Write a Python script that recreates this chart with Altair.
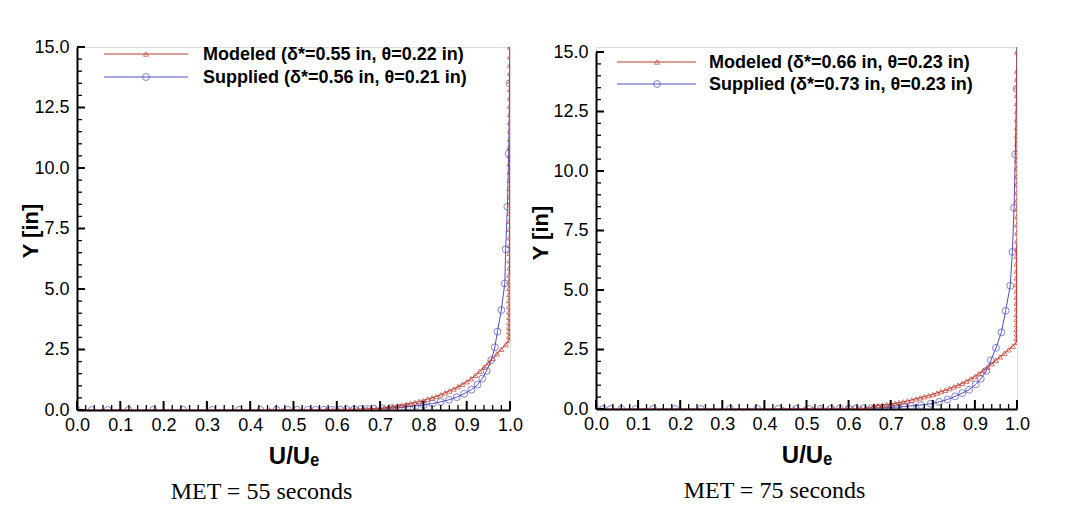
import altair as alt
import pandas as pd

# ---------------- MET = 55 s ----------------
mod55_u = [0.0, 0.445, 0.475, 0.50, 0.52, 0.54, 0.56, 0.575, 0.59, 0.605, 0.62, 0.63,
           0.64, 0.65, 0.66, 0.67, 0.68, 0.69,
           0.70, 0.71, 0.72, 0.73, 0.74, 0.75, 0.76, 0.77, 0.78, 0.79, 0.80, 0.81, 0.82,
           0.83, 0.84, 0.85, 0.86, 0.87, 0.88, 0.89, 0.90, 0.91, 0.92, 0.93, 0.94, 0.95,
           0.96, 0.97, 0.98, 0.99, 0.998,
           0.998, 0.998, 0.998, 0.998, 0.998, 0.998, 0.998, 0.998, 0.998, 0.998, 0.998,
           0.998, 0.999, 0.999, 0.999, 0.999, 0.999, 0.999, 0.999, 0.999, 0.999, 0.999,
           0.999, 0.999, 0.999, 0.999, 0.999, 0.999, 1.0, 1.0, 1.0, 1.0, 1.0, 1.0, 1.0,
           1.0, 1.0, 1.0, 1.0, 1.0]
mod55_y = [0.0, 0.0005, 0.0008, 0.0012, 0.0017, 0.0024, 0.0033, 0.0045, 0.006, 0.008,
           0.011, 0.014, 0.018, 0.023, 0.029, 0.036, 0.045, 0.055,
           0.07, 0.09, 0.115, 0.14, 0.17, 0.20, 0.235, 0.27, 0.31, 0.35, 0.40, 0.45, 0.50,
           0.56, 0.63, 0.71, 0.79, 0.87, 0.96, 1.06, 1.17, 1.29, 1.43, 1.60, 1.77, 1.95,
           2.13, 2.32, 2.51, 2.70, 2.87,
           3.05, 3.23, 3.42, 3.62, 3.83, 4.05, 4.28, 4.52, 4.77, 5.03, 5.30, 5.58, 5.87,
           6.17, 6.48, 6.80, 7.12, 7.46, 7.80, 8.14, 8.48, 8.82, 9.16, 9.50, 9.84, 10.18,
           10.52, 10.86, 11.20, 11.54, 11.88, 12.22, 12.56, 12.90, 13.24, 13.58, 13.92,
           14.26, 14.60, 15.0]

sup55_u = [0.0, 0.034, 0.071, 0.119, 0.176, 0.245, 0.312, 0.374, 0.424, 0.461, 0.487,
           0.508, 0.533, 0.551, 0.570, 0.589, 0.607, 0.623, 0.640, 0.655, 0.670, 0.686,
           0.705, 0.724, 0.743, 0.763, 0.782, 0.801,
           0.821, 0.840, 0.859, 0.877, 0.894, 0.911, 0.925, 0.936, 0.946, 0.957, 0.965,
           0.971, 0.980, 0.988, 0.990, 0.994, 0.997, 0.999, 1.0]
sup55_y = [0.0, 0.0004, 0.0006, 0.0008, 0.001, 0.0013, 0.0016, 0.002, 0.0025, 0.0032,
           0.004, 0.005, 0.0065, 0.008, 0.010, 0.013, 0.016, 0.021, 0.026, 0.033, 0.042,
           0.052, 0.066, 0.083, 0.105, 0.132, 0.167, 0.21,
           0.265, 0.335, 0.42, 0.53, 0.67, 0.84, 1.05, 1.30, 1.62, 2.07, 2.59, 3.24, 4.13,
           5.23, 6.64, 8.40, 10.60, 13.50, 17.10]

# ---------------- MET = 75 s ----------------
mod75_u = [0.0, 0.445, 0.47, 0.495, 0.515, 0.535, 0.55, 0.565, 0.58, 0.595, 0.61, 0.62,
           0.63, 0.64, 0.65,
           0.66, 0.67, 0.68, 0.69, 0.70, 0.71, 0.72, 0.73, 0.74, 0.75, 0.76, 0.77, 0.78,
           0.79, 0.80, 0.81, 0.82, 0.83, 0.84, 0.85, 0.86, 0.87, 0.88, 0.89, 0.90, 0.91,
           0.92, 0.93, 0.94, 0.95, 0.96, 0.97, 0.98, 0.99, 0.999,
           0.999, 0.999, 0.999, 0.999, 0.999, 0.999, 0.999, 0.999, 0.999, 0.999, 0.999,
           0.999, 0.999, 0.999, 0.999, 0.999, 1.0, 1.0, 1.0, 1.0, 1.0, 1.0, 1.0, 1.0, 1.0,
           1.0, 1.0, 1.0, 1.0, 1.0, 1.0, 1.0, 1.0, 1.0, 1.0, 1.0, 1.0, 1.0, 1.0]
mod75_y = [0.0, 0.0005, 0.0008, 0.0012, 0.0017, 0.0024, 0.0033, 0.0045, 0.006, 0.008,
           0.011, 0.014, 0.018, 0.023, 0.03,
           0.13, 0.145, 0.165, 0.185, 0.21, 0.235, 0.27, 0.30, 0.34, 0.38, 0.425, 0.47,
           0.52, 0.565, 0.61, 0.67, 0.73, 0.79, 0.86, 0.93, 1.00, 1.08, 1.17, 1.27, 1.37,
           1.49, 1.62, 1.76, 1.90, 2.05, 2.19, 2.34, 2.49, 2.64, 2.80,
           2.98, 3.16, 3.35, 3.55, 3.76, 3.98, 4.21, 4.45, 4.70, 4.96, 5.23, 5.51, 5.80,
           6.10, 6.41, 6.73, 7.06, 7.40, 7.74, 8.08, 8.42, 8.76, 9.10, 9.44, 9.78, 10.12,
           10.46, 10.80, 11.14, 11.48, 11.82, 12.16, 12.50, 12.84, 13.18, 13.52, 13.86,
           14.20, 15.0]

sup75_u = [0.0, 0.017, 0.035, 0.060, 0.094, 0.136, 0.188, 0.249, 0.318, 0.383, 0.433,
           0.475, 0.506, 0.534, 0.558, 0.579, 0.600, 0.617, 0.635, 0.653, 0.669, 0.684,
           0.700, 0.716, 0.732, 0.748,
           0.772, 0.795, 0.815, 0.835, 0.853, 0.870, 0.886, 0.902, 0.914, 0.927, 0.938,
           0.950, 0.963, 0.973, 0.984, 0.989, 0.993, 0.996, 0.999, 1.0]
sup75_y = [0.0, 0.0004, 0.0006, 0.0008, 0.001, 0.0013, 0.0016, 0.002, 0.0025, 0.0032,
           0.004, 0.005, 0.0063, 0.008, 0.010, 0.0125, 0.016, 0.020, 0.025, 0.032, 0.040,
           0.050, 0.063, 0.080, 0.100, 0.127,
           0.165, 0.22, 0.30, 0.40, 0.53, 0.67, 0.81, 1.03, 1.27, 1.60, 2.05, 2.57, 3.22,
           4.13, 5.18, 6.60, 8.45, 10.70, 13.45, 17.10]

legend55 = ["Modeled (δ*=0.55 in, θ=0.22 in)", "Supplied (δ*=0.56 in, θ=0.21 in)"]
legend75 = ["Modeled (δ*=0.66 in, θ=0.23 in)", "Supplied (δ*=0.73 in, θ=0.23 in)"]
captions = ["MET = 55 seconds", "MET = 75 seconds"]

x_major = [0.0, 0.1, 0.2, 0.3, 0.4, 0.5, 0.6, 0.7, 0.8, 0.9, 1.0]
x_minor = [0.02, 0.04, 0.06, 0.08, 0.12, 0.14, 0.16, 0.18, 0.22, 0.24, 0.26, 0.28,
           0.32, 0.34, 0.36, 0.38, 0.42, 0.44, 0.46, 0.48, 0.52, 0.54, 0.56, 0.58,
           0.62, 0.64, 0.66, 0.68, 0.72, 0.74, 0.76, 0.78, 0.82, 0.84, 0.86, 0.88,
           0.92, 0.94, 0.96, 0.98]
y_major = [0.0, 2.5, 5.0, 7.5, 10.0, 12.5, 15.0]
y_minor = [0.5, 1.0, 1.5, 2.0, 3.0, 3.5, 4.0, 4.5, 5.5, 6.0, 6.5, 7.0, 8.0, 8.5, 9.0,
           9.5, 10.5, 11.0, 11.5, 12.0, 13.0, 13.5, 14.0, 14.5]

RED = "#c0392b"
BLUE = "#4f4fc4"
SANS = "Liberation Sans"
XTITLE = "U/Uₑ"
YTITLE = "Y [in]"


def panel(mu, my, su, sy, labels, caption, w, h, leg, title_x, y_top):
    mod = pd.DataFrame({"u": mu, "y": my, "i": list(range(len(mu)))})
    sup = pd.DataFrame({"u": su, "y": sy, "i": list(range(len(su)))})
    xs = alt.Scale(domain=[0, 1], nice=False, zero=False)
    # y axis runs from the bottom of the view up to y_top pixels below its top edge
    ys = alt.Scale(domain=[0, 15], nice=False, zero=False, range=[h, y_top])

    xaxis = alt.Axis(values=x_major, format=".1f", ticks=False, grid=False,
                     domainColor="black", domainWidth=2, labelFont=SANS,
                     labelFontSize=18, labelColor="black", labelPadding=6,
                     labelOverlap=False, labelFlush=False,
                     titleFont=SANS, titleFontSize=24, titleFontWeight="bold",
                     titleColor="black", titlePadding=10)
    yaxis = alt.Axis(values=y_major, format=".1f", ticks=False, grid=False,
                     domainColor="black", domainWidth=2, labelFont=SANS,
                     labelFontSize=18, labelColor="black", labelPadding=8,
                     labelOverlap=False, labelFlush=False,
                     titleFont=SANS, titleFontSize=22, titleFontWeight="bold",
                     titleColor="black", titleX=title_x, titleY=(h + y_top) / 2 + 2,
                     titleAngle=270, titleAlign="center", titleBaseline="middle")

    def xenc(field):
        return alt.X(field, scale=xs, axis=xaxis, title=XTITLE)

    def yenc(field):
        return alt.Y(field, scale=ys, axis=yaxis, title=YTITLE)

    sup_line = alt.Chart(sup).mark_line(color=BLUE, strokeWidth=1, clip=True).encode(
        x=xenc("u:Q"), y=yenc("y:Q"), order="i:Q")
    sup_pts = alt.Chart(sup).mark_point(shape="circle", filled=False, size=48,
                                        strokeWidth=1, color=BLUE, clip=True).encode(
        x=xenc("u:Q"), y=yenc("y:Q"))
    mod_line = alt.Chart(mod).mark_line(color=RED, strokeWidth=1, clip=True).encode(
        x=xenc("u:Q"), y=yenc("y:Q"), order="i:Q")
    mod_pts = alt.Chart(mod).mark_point(shape="triangle-up", filled=False, size=26,
                                        strokeWidth=1, color=RED, clip=True).encode(
        x=xenc("u:Q"), y=yenc("y:Q"))

    # inward-pointing axis ticks
    xmaj = alt.Chart(pd.DataFrame({"v": x_major})).mark_rule(
        color="black", strokeWidth=2).encode(
        x=xenc("v:Q"), y=alt.value(h), y2=alt.value(h - 9))
    xmin = alt.Chart(pd.DataFrame({"v": x_minor})).mark_rule(
        color="black", strokeWidth=1.3).encode(
        x=xenc("v:Q"), y=alt.value(h), y2=alt.value(h - 5))
    ymaj = alt.Chart(pd.DataFrame({"v": y_major})).mark_rule(
        color="black", strokeWidth=2).encode(
        y=yenc("v:Q"), x=alt.value(0), x2=alt.value(8))
    ymin = alt.Chart(pd.DataFrame({"v": y_minor})).mark_rule(
        color="black", strokeWidth=1.3).encode(
        y=yenc("v:Q"), x=alt.value(0), x2=alt.value(5))

    # in-plot legend
    legend_layers = []
    for k, (lab, col, shp, sz) in enumerate(zip(labels, [RED, BLUE],
                                                 ["triangle-up", "circle"], [26, 48])):
        yy = leg["y"][k]
        row = pd.DataFrame({"t": [lab]})
        legend_layers.append(alt.Chart(row).mark_rule(color=col, strokeWidth=1).encode(
            x=alt.value(leg["x0"]), x2=alt.value(leg["x1"]), y=alt.value(yy)))
        legend_layers.append(alt.Chart(row).mark_point(
            shape=shp, filled=False, size=sz, strokeWidth=1, color=col).encode(
            x=alt.value(leg["xm"]), y=alt.value(yy)))
        legend_layers.append(alt.Chart(row).mark_text(
            font=SANS, fontSize=18, fontWeight="bold", align="left", baseline="middle",
            color="black").encode(
            text="t:N", x=alt.value(leg["xt"]), y=alt.value(yy + 1)))

    return alt.layer(sup_line, sup_pts, mod_line, mod_pts, xmin, xmaj, ymin, ymaj,
                     *legend_layers).properties(
        width=w, height=h,
        title=alt.TitleParams(caption, orient="bottom", font="Liberation Serif",
                              fontSize=24, fontWeight="normal", color="black",
                              anchor="middle", offset=12, dx=-32))


left = panel(mod55_u, mod55_y, sup55_u, sup55_y, legend55, captions[0], 433, 363,
             {"x0": 27, "x1": 111, "xm": 69, "xt": 126, "y": [7, 30]}, -47, 0)
right = panel(mod75_u, mod75_y, sup75_u, sup75_y, legend75, captions[1], 421, 362,
              {"x0": 21, "x1": 100, "xm": 61, "xt": 113, "y": [15, 37]}, -56, 5)

chart = alt.hconcat(left, right, spacing=4).properties(
    padding={"left": 18, "top": 37, "right": 5, "bottom": 0}
).configure_view(stroke=None).configure(background="white")

chart.save("out.html", embed_options={"renderer": "svg", "actions": False})
